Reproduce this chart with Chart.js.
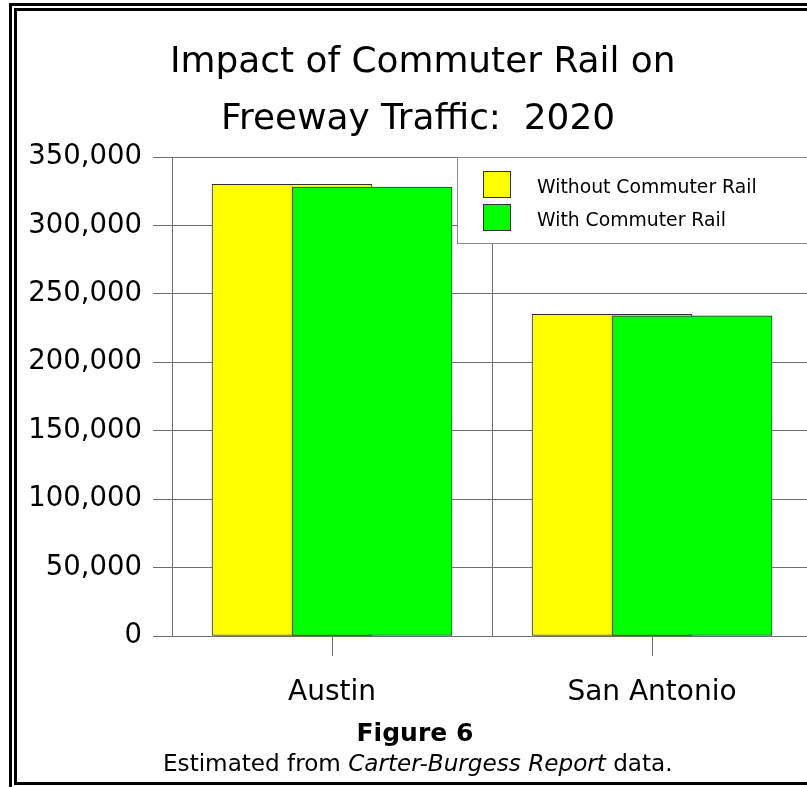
<!DOCTYPE html>
<html><head><meta charset="utf-8">
<script src="https://cdn.jsdelivr.net/npm/chart.js@4"></script>
<style>
html,body{margin:0;padding:0;background:#fff;overflow:hidden;}
#wrap{position:relative;width:807px;height:787px;overflow:hidden;background:#fff;}
canvas{position:absolute;left:0;top:0;}
.b{position:absolute;background:#000;}
.t{position:absolute;white-space:nowrap;font-family:"DejaVu Sans";color:#000;line-height:1;}
</style></head><body>
<div id="wrap">
<canvas id="c" width="812" height="787"></canvas>
<div class="b" style="left:9px;top:3px;width:3px;height:784px"></div>
<div class="b" style="left:9px;top:3px;width:798px;height:3px"></div>
<div class="b" style="left:14px;top:8px;width:3px;height:777px"></div>
<div class="b" style="left:14px;top:8px;width:793px;height:3px"></div>
<div class="b" style="left:14px;top:782px;width:793px;height:3px"></div>
<div class="t" id="t1" data-cx="423" data-base="72" data-w="506">Impact of Commuter Rail on</div>
<div class="t" id="t2" data-cx="418" data-base="129">Freeway Traffic:&nbsp; 2020</div>
<div class="t" id="f6" data-cx="415" data-base="741" data-w="117" style="font-weight:bold">Figure 6</div>
<div class="t" id="cap" data-cx="418" data-base="772" data-w="510">Estimated from <i>Carter-Burgess Report</i> data.</div>
</div>
<script>
const categories = ['Austin', 'San Antonio'];
const seriesLabels = ['Without Commuter Rail', 'With Commuter Rail'];
const withoutRail = [330000, 235000];
const withRail = [328000, 234000];
const yMin = 0, yMax = 350000, yStep = 50000;
const seriesColors = ['#ffff00', '#00ff00'];

// fit and place HTML texts
function place(el, size) {
  el.style.fontSize = size + 'px';
  const w = el.offsetWidth;
  el.style.left = (parseFloat(el.dataset.cx) - w / 2) + 'px';
  el.style.top = (parseFloat(el.dataset.base) - 0.846 * size) + 'px';
}
function fit(el) {
  el.style.fontSize = '40px';
  const w = el.offsetWidth;
  const size = 40 * parseFloat(el.dataset.w) / w;
  place(el, size);
  return size;
}
const titleSize = fit(document.getElementById('t1'));
place(document.getElementById('t2'), titleSize);
fit(document.getElementById('f6'));
fit(document.getElementById('cap'));

const FONT = 'DejaVu Sans';
const GRID = '#6e6e6e';

const drawOrder = {
  id: 'drawOrder',
  beforeDatasetsDraw(chart) {
    for (let i = 0; i < chart.data.datasets.length; i++) {
      const meta = chart.getDatasetMeta(i);
      if (!meta.hidden) meta.controller.draw();
    }
    return false;
  }
};

const extras = {
  id: 'extras',
  afterDraw(chart) {
    const ctx = chart.ctx;
    const xs = chart.scales.x;
    const area = chart.chartArea;
    ctx.save();
    // category tick marks below the axis
    ctx.strokeStyle = GRID; ctx.lineWidth = 1;
    categories.forEach((c, i) => {
      const x = Math.round(xs.getPixelForValue(i)) + 0.5;
      ctx.beginPath(); ctx.moveTo(x, area.bottom); ctx.lineTo(x, area.bottom + 20); ctx.stroke();
    });
    // legend box
    ctx.fillStyle = '#fff';
    ctx.fillRect(457.5, 157.5, 400, 86);
    ctx.strokeStyle = '#8a8a8a';
    ctx.strokeRect(457.5, 157.5, 400, 86);
    ctx.font = '18.8px "' + FONT + '"';
    ctx.textBaseline = 'alphabetic';
    ctx.textAlign = 'left';
    chart.data.datasets.forEach((ds, i) => {
      const y = 171 + i * 33;
      ctx.fillStyle = ds.backgroundColor;
      ctx.fillRect(483.5, y + 0.5, 27, 26);
      ctx.strokeStyle = '#333';
      ctx.strokeRect(483.5, y + 0.5, 27, 26);
      ctx.fillStyle = '#000';
      ctx.fillText(ds.label, 537, y + 22);
    });
    ctx.restore();
  }
};

new Chart(document.getElementById('c'), {
  type: 'bar',
  data: {
    labels: categories,
    datasets: [
      { label: seriesLabels[0], data: withoutRail, backgroundColor: seriesColors[0], borderColor: '#333', borderWidth: 1, borderSkipped: false },
      { label: seriesLabels[1], data: withRail, backgroundColor: seriesColors[1], borderColor: '#333', borderWidth: 1, borderSkipped: false }
    ]
  },
  options: {
    responsive: false,
    animation: false,
    categoryPercentage: 0.5,
    barPercentage: 2,
    layout: { padding: { top: 157, left: 0, right: 0, bottom: 0 } },
    plugins: { legend: { display: false }, title: { display: false }, tooltip: { enabled: false } },
    scales: {
      x: {
        type: 'category',
        offset: true,
        grid: { offset: true, drawTicks: false, color: GRID, lineWidth: 1 },
        border: { display: true, color: GRID },
        ticks: { color: '#000', font: { family: FONT, size: 28 }, padding: 40, maxRotation: 0 },
        afterFit(s) { s.height = 151; }
      },
      y: {
        min: yMin, max: yMax,
        grid: { color: GRID, lineWidth: 1, tickLength: 19, drawTicks: true },
        border: { display: true, color: GRID },
        ticks: {
          stepSize: yStep, color: '#000', padding: 11,
          font: { family: FONT, size: 27.5 },
          callback: v => v.toLocaleString('en-US')
        },
        afterFit(s) { s.width = 172; }
      }
    }
  },
  plugins: [drawOrder, extras]
});
</script>
</body></html>
